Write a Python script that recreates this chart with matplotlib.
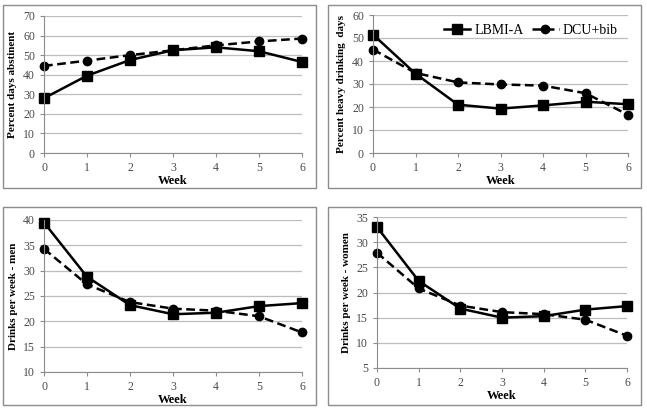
import matplotlib
matplotlib.use('Agg')
import matplotlib.pyplot as plt
from matplotlib.patches import Rectangle

plt.rcParams['font.family'] = ['Liberation Serif', 'DejaVu Serif']

weeks = [0, 1, 2, 3, 4, 5, 6]

# percent days abstinent
abst_lbmi = [28, 39.5, 47.5, 52.5, 54, 52, 46.5]
abst_dcu = [44.5, 47.2, 50, 52.5, 55, 57, 58.5]

# percent heavy drinking days
heavy_lbmi = [51.5, 34.5, 21, 19.3, 20.7, 22.3, 21.2]
heavy_dcu = [45, 34.8, 30.7, 29.8, 29.3, 26, 16.6]

# drinks per week - men
men_lbmi = [39.5, 28.8, 23.2, 21.4, 21.7, 23, 23.6]
men_dcu = [34.3, 27.3, 23.8, 22.5, 22.1, 21, 17.8]

# drinks per week - women
women_lbmi = [33, 22.3, 16.8, 15, 15.3, 16.6, 17.3]
women_dcu = [27.9, 20.8, 17.4, 16.1, 15.7, 14.6, 11.4]

W, H = 647, 409
fig = plt.figure(figsize=(W / 100, H / 100), dpi=100)

def px_box(x0, y0, x1, y1):
    return [x0 / W, 1 - y1 / H, (x1 - x0) / W, (y1 - y0) / H]

# grey frames round each panel
for (x0, y0, x1, y1) in [(3, 5, 316, 188), (328, 5, 641, 188),
                         (3, 207, 316, 405), (328, 207, 641, 405)]:
    b = px_box(x0, y0, x1, y1)
    fig.patches.append(Rectangle((b[0], b[1]), b[2], b[3], transform=fig.transFigure,
                                 fill=False, edgecolor='#8c8c8c', linewidth=1.0))

panels = [
    (px_box(44, 16, 302, 153), abst_lbmi, abst_dcu, 'Percent days abstinent', (0, 70, 10)),
    (px_box(373, 15, 628, 153), heavy_lbmi, heavy_dcu, 'Percent heavy drinking  days', (0, 60, 10)),
    (px_box(44, 220, 302, 372), men_lbmi, men_dcu, 'Drinks per week - men', (10, 40, 5)),
    (px_box(377, 217, 627, 368), women_lbmi, women_dcu, 'Drinks per week - women', (5, 35, 5)),
]

for i, (pos, lb, dc, ylab, (lo, hi, step)) in enumerate(panels):
    ax = fig.add_axes(pos)
    ax.plot(weeks, lb, color='black', linewidth=1.8, marker='s', markersize=6.5, label='LBMI-A')
    ax.plot(weeks, dc, color='black', linewidth=1.8, linestyle=(0, (3.5, 1.8)), marker='o',
            markersize=6, label='DCU+bib')
    ax.set_xlim(0, 6)
    ax.set_ylim(lo, hi)
    ax.set_yticks(range(lo, hi + 1, step))
    ax.set_xticks(weeks)
    ax.yaxis.grid(True, color='#bdbdbd', linewidth=0.9)
    ax.set_axisbelow(True)
    for s in ['top', 'right']:
        ax.spines[s].set_visible(False)
    for s in ['left', 'bottom']:
        ax.spines[s].set_color('#8c8c8c')
    ax.tick_params(axis='both', labelsize=8.5, colors='#8c8c8c', labelcolor='#4a4a4a', length=3)
    ax.set_xlabel('Week', fontsize=9, fontweight='bold', labelpad=1)
    ax.set_ylabel(ylab, fontsize=8, fontweight='bold', labelpad=4)
    for ln in ax.lines:
        ln.set_clip_on(False)
    if i == 1:
        ax.legend(loc='center right', frameon=False, fontsize=10, ncol=2, handlelength=1.9,
                  columnspacing=0.6, handletextpad=0.3, bbox_to_anchor=(0.96, 0.89),
                  borderaxespad=0, borderpad=0)

fig.savefig('out.png', dpi=100)
